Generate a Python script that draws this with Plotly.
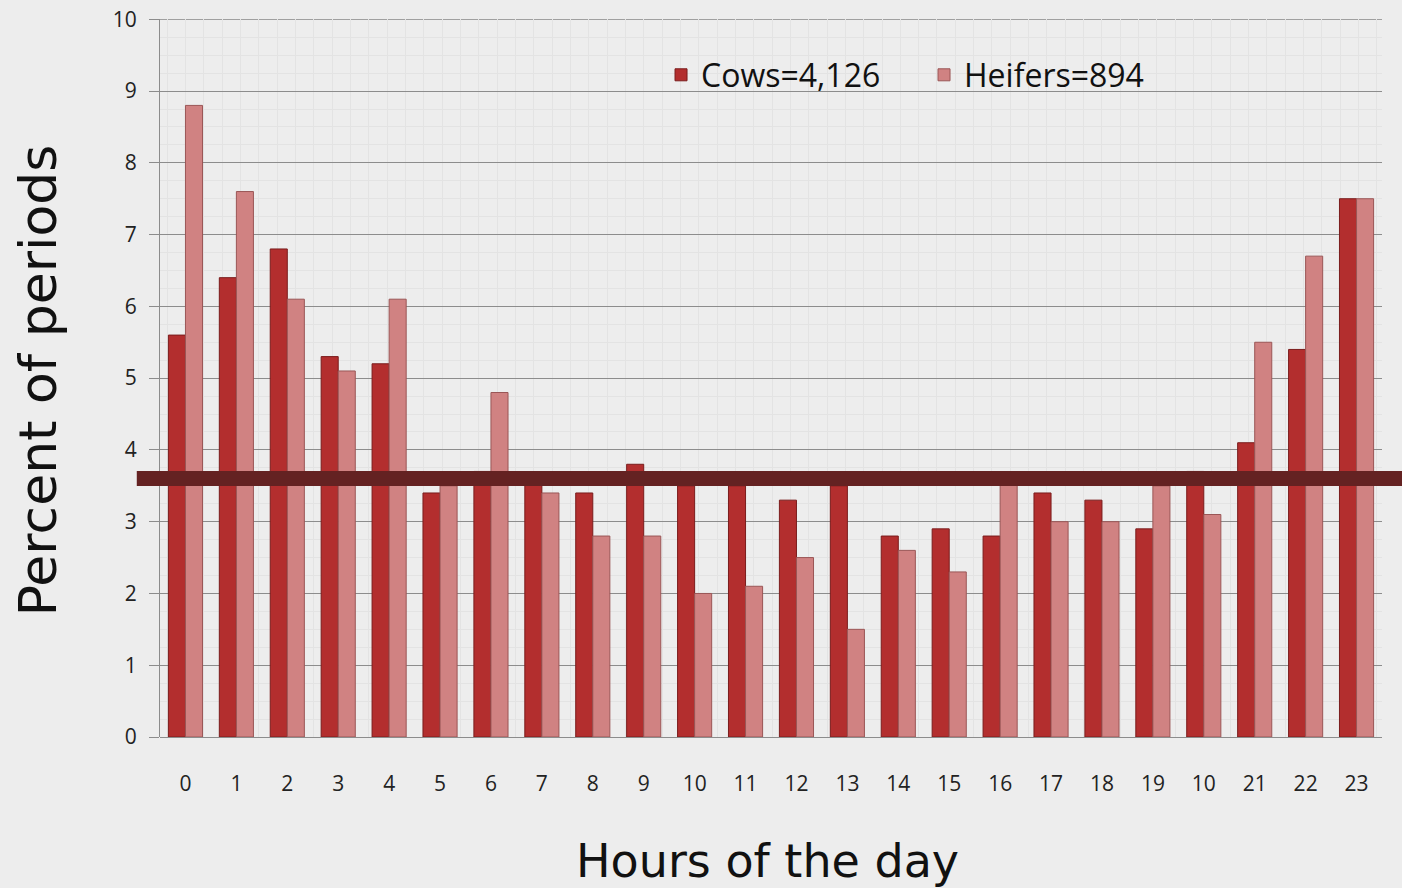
import plotly.graph_objects as go

# hours of the day (the original axis mislabels hour 20 as "10")
hours = list(range(24))
hour_labels = ["0", "1", "2", "3", "4", "5", "6", "7", "8", "9", "10", "11",
               "12", "13", "14", "15", "16", "17", "18", "19", "10", "21", "22", "23"]

cows = [5.6, 6.4, 6.8, 5.3, 5.2, 3.4, 3.7, 3.6, 3.4, 3.8, 3.5, 3.5,
        3.3, 3.5, 2.8, 2.9, 2.8, 3.4, 3.3, 2.9, 3.7, 4.1, 5.4, 7.5]
heifers = [8.8, 7.6, 6.1, 5.1, 6.1, 3.5, 4.8, 3.4, 2.8, 2.8, 2.0, 2.1,
           2.5, 1.5, 2.6, 2.3, 3.6, 3.0, 3.0, 3.5, 3.1, 5.5, 6.7, 7.5]

expected_level = 3.6
y_max = 10

fig = go.Figure()
fig.add_trace(go.Bar(
    x=hours, y=cows, name="Cows=4,126",
    marker=dict(color="#b32e2e", line=dict(color="#7a1c1c", width=1)),
))
fig.add_trace(go.Bar(
    x=hours, y=heifers, name="Heifers=894",
    marker=dict(color="#d08282", line=dict(color="#9a5656", width=1)),
))

# top gridline (plotly skips the one on the plot edge)
fig.add_shape(
    type="line", xref="paper", yref="y",
    x0=0, x1=1, y0=y_max, y1=y_max,
    line=dict(color="#8c8c8c", width=1), layer="below",
)

# thick reference line across the chart
fig.add_shape(
    type="line", xref="paper", yref="y",
    x0=-0.019, x1=1.05, y0=expected_level, y1=expected_level,
    line=dict(color="#642222", width=15), layer="above",
)

fig.add_annotation(
    text="Percent of periods", xref="paper", yref="paper",
    x=-0.126, y=0.497, textangle=-90, showarrow=False,
    font=dict(family="DejaVu Sans", size=52, color="#111111"),
)
fig.add_annotation(
    text="Hours of the day", xref="paper", yref="paper",
    x=0.497, y=-0.173, showarrow=False, yanchor="middle",
    font=dict(family="DejaVu Sans", size=46, color="#111111"),
)

fig.update_layout(
    width=1402, height=888,
    margin=dict(l=160, r=20, t=19, b=151, autoexpand=False),
    paper_bgcolor="#ededed", plot_bgcolor="#ededed",
    barmode="group", bargap=0.33, bargroupgap=0,
    font=dict(family="Open Sans", color="#222222"),
    showlegend=True,
    legend=dict(
        orientation="h", x=0.41, y=0.922, xanchor="left", yanchor="middle",
        bgcolor="rgba(0,0,0,0)", font=dict(size=32, color="#111111"),
        itemwidth=30, entrywidth=218,
    ),
    xaxis=dict(
        range=[-0.5, 23.5], tickmode="array", tickvals=hours, ticktext=hour_labels,
        tickfont=dict(size=21), ticks="", ticklabelstandoff=32, automargin=False,
        showgrid=False, zeroline=False, showline=False,
        minor=dict(dtick=0.36, showgrid=True, gridcolor="#e3e3e3", gridwidth=1),
    ),
    yaxis=dict(
        range=[0, y_max + 0.004], dtick=1, tickfont=dict(size=21), ticklabelstandoff=8,
        ticks="outside", ticklen=10, tickcolor="#8c8c8c", automargin=False,
        showgrid=True, gridcolor="#8c8c8c", gridwidth=1,
        zeroline=True, zerolinecolor="#8c8c8c", zerolinewidth=1,
        showline=True, linecolor="#8c8c8c", linewidth=1,
        minor=dict(dtick=0.25, showgrid=True, gridcolor="#e3e3e3", gridwidth=1),
    ),
)

fig.write_html(
    "out.html",
    config={"displayModeBar": False},
    post_script="document.body.style.margin='0';document.body.style.overflow='hidden';",
)
